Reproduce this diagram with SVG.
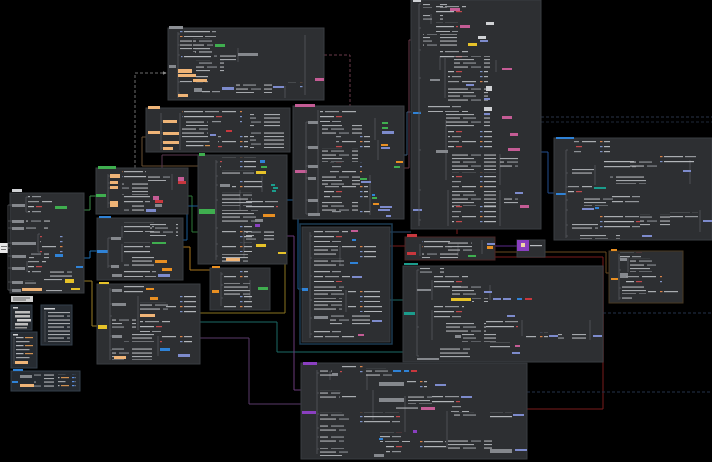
<svg xmlns="http://www.w3.org/2000/svg" width="712" height="462" viewBox="0 0 712 462">
<defs>
<style>
.pn{fill:#2d2f32;stroke:#3b3e42;stroke-width:1}
.dk{fill:#262b31;stroke:#34404c;stroke-width:1}
.b1{fill:url(#t1)}
.b2{fill:url(#t2)}
.b3{fill:url(#t3)}
.sp{fill:none;stroke:#55585d;stroke-width:0.8}
.ck{fill:#85888d}
.lt{fill:#cfd1d4}
.pe{fill:#efb477}
.gr{fill:#3fae4f}
.ye{fill:#e6c229}
.bl{fill:#2f82d6}
.pk{fill:#c45c95}
.rd{fill:#c8373d}
.pu{fill:#8a3fc0}
.te{fill:#1b9c8c}
.la{fill:#7d8bcc}
.or{fill:#e88f22}
.cn{fill:none;stroke-width:1}
.ds{stroke-dasharray:3 2}
</style>
<pattern id="t1" width="60" height="15" patternUnits="userSpaceOnUse">
<rect x="0" y="1" width="2.5" height="1.2" fill="#7d93c9"/>
<rect x="4" y="1" width="26" height="1.2" fill="#a9acb0"/>
<rect x="32" y="1" width="9" height="1.2" fill="#8d9196"/>
<rect x="0" y="6" width="2.5" height="1.2" fill="#d9834a"/>
<rect x="4" y="6" width="19" height="1.2" fill="#a9acb0"/>
<rect x="25" y="6" width="14" height="1.2" fill="#93969a"/>
<rect x="42" y="6" width="14" height="1.2" fill="#a9acb0"/>
<rect x="0" y="11" width="2.5" height="1.2" fill="#7d93c9"/>
<rect x="4" y="11" width="30" height="1.2" fill="#b3b6ba"/>
<rect x="36" y="11" width="6" height="1.2" fill="#c2484c"/>
</pattern>
<pattern id="t2" width="44" height="11" patternUnits="userSpaceOnUse">
<rect x="0" y="0.5" width="28" height="1.1" fill="#b6b8bb"/>
<rect x="31" y="0.5" width="10" height="1.1" fill="#8a8e93"/>
<rect x="0" y="4" width="34" height="1.1" fill="#a5a8ac"/>
<rect x="0" y="7.5" width="20" height="1.1" fill="#b6b8bb"/>
<rect x="23" y="7.5" width="13" height="1.1" fill="#989ba0"/>
</pattern>
<pattern id="t3" width="36" height="8" patternUnits="userSpaceOnUse">
<rect x="0" y="1" width="2.5" height="1.2" fill="#5c8fe0"/>
<rect x="3.5" y="1" width="20" height="1.2" fill="#b0b3b7"/>
<rect x="25" y="1" width="8" height="1.2" fill="#d09050"/>
<rect x="0" y="5" width="2.5" height="1.2" fill="#5c8fe0"/>
<rect x="3.5" y="5" width="26" height="1.2" fill="#a0a3a7"/>
</pattern>
<marker id="ar" viewBox="0 0 6 6" refX="5" refY="3" markerWidth="4" markerHeight="4" orient="auto"><path d="M0 0L6 3L0 6Z" fill="#888"/></marker>
</defs>
<rect width="712" height="462" fill="#000"/>

<g id="connectors">
<path class="cn" stroke="#8a8a8a" d="M8 248H10"/>
<path class="cn" stroke="#3e8e4a" d="M84 210H90V196H97"/>
<path class="cn" stroke="#1f6fb0" d="M84 258H90V251H97"/>
<path class="cn" stroke="#9a7e26" d="M84 281H92V326H97"/>
<path class="cn ds" stroke="#6c6c6c" d="M135 168V73H166" marker-end="url(#ar)"/>
<path class="cn" stroke="#6b5033" d="M146 137H142V166H198"/>
<path class="cn" stroke="#5a3850" d="M162 168V155H198"/>
<path class="cn" stroke="#2f7a3a" d="M188 196H192V232H198"/>
<path class="cn" stroke="#1d5c94" d="M183 240H187V206H198"/>
<path class="cn" stroke="#a8761f" d="M183 247H190V270H210"/>
<path class="cn" stroke="#8a7420" d="M200 313H285V262"/>
<path class="cn" stroke="#1d6a66" d="M200 322H277V352H403"/>
<path class="cn" stroke="#5a3a6a" d="M200 338H249V404H301"/>
<path class="cn" stroke="#6a3a7a" d="M287 236H294V390H301"/>
<path class="cn" stroke="#1f5f94" d="M287 200H298V289H302"/>
<path class="cn ds" stroke="#6b3a4a" d="M324 55H350V106"/>
<path class="cn" stroke="#3a5a7a" d="M404 155H407V112H411"/>
<path class="cn" stroke="#6b3a4a" d="M404 168H409V40H411"/>
<path class="cn" stroke="#234f90" d="M541 152H548V193H554"/>
<path class="cn ds" stroke="#2a3448" d="M541 117H712"/>
<path class="cn ds" stroke="#1f2838" stroke-width="1.5" d="M541 122H712"/>
<path class="cn" stroke="#5a2a8a" d="M495 246H517"/>
<path class="cn" stroke="#6b4a20" d="M495 252H606V273H609"/>
<path class="cn" stroke="#7a1c1c" d="M495 257H603V409H527"/>
<path class="cn ds" stroke="#25324a" stroke-width="1.5" d="M603 313H712"/>
<path class="cn ds" stroke="#25324a" stroke-width="1.5" d="M527 392H712"/>
<path class="cn" stroke="#7a1c1c" d="M390 246H405"/>
<path class="cn" stroke="#7a1c1c" d="M457 229V234"/>
<path class="cn" stroke="#1d6a66" d="M390 300H403"/>
<path class="cn" stroke="#2a4a6a" d="M390 232H411"/>
</g>

<g id="root"><rect x="0" y="243" width="8" height="10" fill="#e8e8e8"/><rect x="1" y="246" width="6" height="1" fill="#777"/><rect x="1" y="249" width="5" height="1" fill="#777"/></g>

<g id="panelA">
<rect class="pn" x="10" y="193" width="74" height="100"/>
<rect x="12" y="189" width="10" height="3" class="lt"/>
<path class="sp" d="M8 205V290M8 205H12M8 221H12M8 228H12M8 243H12M8 256H12M8 268H12M8 282H12M8 290H12M26 197V212M26 197H28M26 212H28M38 234V252M38 234H40M38 252H40M27 261V272"/>
<rect class="ck" x="12" y="204" width="13" height="3"/>
<rect class="ck" x="12" y="220" width="12" height="3"/>
<rect class="ck" x="12" y="227" width="12" height="3"/>
<rect class="ck" x="12" y="242" width="24" height="3"/>
<rect class="ck" x="12" y="255" width="14" height="3"/>
<rect class="ck" x="12" y="267" width="13" height="3"/>
<rect class="ck" x="12" y="281" width="11" height="3"/>
<rect class="ck" x="12" y="289" width="9" height="3"/>
<rect class="b1" x="28" y="195" width="24" height="18"/>
<rect class="b2" x="26" y="219" width="24" height="5"/>
<rect class="b2" x="26" y="226" width="22" height="4"/>
<rect class="b1" x="40" y="233" width="24" height="20"/>
<rect class="b2" x="29" y="253" width="20" height="6"/>
<rect class="b1" x="28" y="260" width="18" height="13"/>
<rect class="b2" x="50" y="270" width="22" height="7"/>
<rect class="b2" x="25" y="280" width="16" height="5"/>
<rect class="b2" x="44" y="277" width="18" height="4"/>
<rect class="pe" x="22" y="288" width="20" height="3"/>
<rect class="b2" x="46" y="288" width="16" height="4"/>
<rect class="gr" x="55" y="206" width="12" height="3"/>
<rect class="bl" x="55" y="254" width="8" height="3"/>
<rect class="bl" x="76" y="266" width="7" height="2"/>
<rect class="ye" x="65" y="279" width="9" height="4"/>
<rect class="ye" x="71" y="288" width="9" height="2"/>
</g>

<g id="boxes">
<rect x="11" y="296" width="22" height="6" fill="#cfcfcf"/>
<rect x="13" y="297.5" width="17" height="1" fill="#666"/><rect x="13" y="299.5" width="13" height="1" fill="#666"/>
<rect class="dk" x="11" y="305" width="21" height="25"/>
<rect x="13" y="307" width="5" height="1.5" class="lt"/>
<rect x="15" y="311" width="15" height="2.5" fill="#bdbdbd"/>
<rect x="15" y="315" width="15" height="2.5" fill="#bdbdbd"/>
<rect x="17" y="319" width="14" height="2.5" fill="#d0d0d0"/>
<rect x="15" y="323" width="13" height="2.5" fill="#bdbdbd"/>
<rect x="15" y="327" width="12" height="1.5" fill="#999"/>
<rect class="dk" x="41" y="305" width="31" height="40"/>
<rect x="44" y="308" width="11" height="1.5" class="lt"/>
<path class="sp" d="M45 311V342"/>
<rect class="b2" x="48" y="312" width="22" height="30"/>
<rect class="dk" x="11" y="332" width="26" height="36"/>
<rect x="13" y="334" width="5" height="1.5" class="lt"/>
<path class="sp" d="M14 337V364"/>
<rect class="b3" x="16" y="337" width="18" height="22"/>
<rect class="pe" x="15" y="361" width="13" height="3"/>
<rect class="dk" x="11" y="371" width="69" height="20"/>
<rect x="13" y="369" width="10" height="2" class="bl"/>
<rect x="12" y="381" width="6" height="2" class="bl"/>
<rect class="ck" x="20" y="375" width="12" height="3"/>
<rect class="pe" x="20" y="384" width="14" height="3"/>
<rect class="b2" x="34" y="373" width="20" height="16"/>
<rect class="b3" x="58" y="374" width="18" height="14"/>
</g>

<g id="panelB">
<rect class="pn" x="168" y="28" width="156" height="72"/>
<rect x="169" y="26" width="14" height="3" fill="#8c8f94"/>
<rect class="ck" x="169" y="65" width="7" height="3"/>
<path class="sp" d="M178 32V98M178 34H180M178 45H180M178 55H180M178 82H180M178 93H180M238 48V62M305 35V95M285 86V98"/>
<rect class="b1" x="180" y="30" width="36" height="7"/>
<rect class="b2" x="180" y="40" width="12" height="10"/>
<rect class="b2" x="193" y="38" width="20" height="14"/>
<rect class="b1" x="181" y="53" width="30" height="7"/>
<rect class="b2" x="195" y="48" width="20" height="5"/>
<rect class="b2" x="196" y="60" width="28" height="12"/>
<rect class="b1" x="196" y="74" width="12" height="10"/>
<rect class="b2" x="214" y="55" width="22" height="6"/>
<rect class="pe" x="178" y="69" width="14" height="4"/>
<rect class="pe" x="178" y="74" width="18" height="3"/>
<rect class="b2" x="180" y="79" width="12" height="4"/>
<rect class="pe" x="193" y="79" width="14" height="3"/>
<rect class="gr" x="215" y="44" width="10" height="3"/>
<rect class="ck" x="238" y="53" width="20" height="3"/>
<rect class="ck" x="194" y="88" width="8" height="4"/>
<rect class="b1" x="202" y="88" width="18" height="8"/>
<rect class="la" x="222" y="87" width="12" height="3"/>
<rect class="b2" x="236" y="83" width="36" height="10"/>
<rect class="la" x="273" y="86" width="11" height="2"/>
<rect class="b1" x="288" y="82" width="16" height="7"/>
<rect class="pk" x="315" y="78" width="9" height="3"/>
<rect class="pe" x="178" y="94" width="10" height="3"/>
</g>

<g id="panelC">
<rect class="pn" x="146" y="108" width="144" height="44"/>
<rect x="148" y="106" width="12" height="3" class="pe"/>
<rect class="pe" x="148" y="131" width="12" height="3"/>
<path class="sp" d="M161 113V150M161 121H163M161 133H163M161 142H163M161 148H163M180 113V150"/>
<rect class="pe" x="163" y="120" width="14" height="3"/>
<rect class="pe" x="163" y="132" width="16" height="3"/>
<rect class="pe" x="163" y="141" width="16" height="3"/>
<rect class="pe" x="163" y="147" width="10" height="3"/>
<rect class="b1" x="182" y="111" width="30" height="8"/>
<rect class="b2" x="186" y="120" width="22" height="6"/>
<rect class="b1" x="212" y="110" width="30" height="14"/>
<rect class="b2" x="182" y="128" width="26" height="10"/>
<rect class="la" x="210" y="134" width="6" height="2"/>
<rect class="rd" x="226" y="130" width="6" height="2"/>
<rect class="b1" x="218" y="136" width="30" height="12"/>
<rect class="b2" x="250" y="112" width="30" height="16"/>
<rect class="b2" x="250" y="132" width="34" height="16"/>
<rect class="b3" x="186" y="140" width="24" height="8"/>
</g>

<g id="panelD">
<rect class="pn" x="96" y="168" width="92" height="46"/>
<rect x="98" y="166" width="18" height="3" class="gr"/>
<rect class="gr" x="96" y="194" width="10" height="3"/>
<path class="sp" d="M108 174V208M108 176H110M108 183H110M108 188H110M108 203H110M172 174V190"/>
<rect class="pe" x="110" y="174" width="10" height="4"/>
<rect class="pe" x="110" y="181" width="8" height="3"/>
<rect class="pe" x="110" y="186" width="8" height="3"/>
<rect class="pe" x="110" y="201" width="8" height="6"/>
<rect class="b1" x="122" y="170" width="24" height="10"/>
<rect class="b2" x="148" y="176" width="22" height="5"/>
<rect class="b2" x="122" y="183" width="26" height="12"/>
<rect class="b1" x="124" y="196" width="26" height="8"/>
<rect class="b2" x="124" y="205" width="20" height="6"/>
<rect class="pk" x="178" y="177" width="6" height="4"/>
<rect class="rd" x="178" y="181" width="8" height="3"/>
<rect class="pk" x="153" y="196" width="6" height="4"/>
<rect class="rd" x="155" y="200" width="8" height="3"/>
<rect class="ck" x="155" y="204" width="7" height="3"/>
<rect class="la" x="146" y="209" width="10" height="3"/>
</g>

<g id="panelE">
<rect class="pn" x="97" y="218" width="86" height="62"/>
<rect x="99" y="216" width="12" height="2" class="bl"/>
<rect class="bl" x="97" y="250" width="11" height="3"/>
<path class="sp" d="M108 238V268M108 238H111M108 266H111M122 226V238M122 244V262"/>
<rect class="ck" x="111" y="237" width="10" height="3"/>
<rect class="ck" x="111" y="265" width="8" height="3"/>
<rect class="b1" x="124" y="222" width="30" height="10"/>
<rect class="b2" x="150" y="222" width="28" height="14"/>
<rect class="b1" x="124" y="242" width="26" height="12"/>
<rect class="gr" x="152" y="242" width="14" height="2"/>
<rect class="b2" x="124" y="256" width="30" height="12"/>
<rect class="or" x="155" y="260" width="12" height="3"/>
<rect class="or" x="162" y="268" width="10" height="3"/>
<rect class="b1" x="124" y="269" width="32" height="8"/>
<rect class="la" x="158" y="274" width="12" height="3"/>
<rect class="ck" x="112" y="274" width="10" height="3"/>
</g>

<g id="panelF">
<rect class="pn" x="198" y="155" width="89" height="109"/>
<rect x="199" y="153" width="6" height="3" class="gr"/>
<rect class="gr" x="199" y="209" width="16" height="5"/>
<path class="sp" d="M216 160V260M216 162H218M216 176H218M216 185H218M216 200H218M216 228H218M216 244H218M216 256H218M240 190V210M244 230V258M262 176V192"/>
<rect class="b1" x="220" y="157" width="36" height="12"/>
<rect class="b2" x="222" y="170" width="32" height="6"/>
<rect class="ck" x="220" y="184" width="10" height="3"/>
<rect class="b1" x="232" y="180" width="30" height="10"/>
<rect class="b2" x="222" y="192" width="30" height="14"/>
<rect class="b1" x="246" y="198" width="32" height="10"/>
<rect class="b2" x="222" y="210" width="36" height="12"/>
<rect class="b1" x="222" y="224" width="30" height="14"/>
<rect class="b2" x="246" y="230" width="28" height="12"/>
<rect class="b1" x="222" y="242" width="30" height="10"/>
<rect class="b2" x="222" y="254" width="26" height="8"/>
<rect class="bl" x="260" y="160" width="5" height="3"/>
<rect class="gr" x="261" y="166" width="6" height="2"/>
<rect class="ye" x="256" y="171" width="10" height="3"/>
<rect class="te" x="271" y="184" width="4" height="2"/>
<rect class="te" x="273" y="187" width="5" height="2"/>
<rect class="te" x="272" y="190" width="4" height="2"/>
<rect class="or" x="263" y="214" width="12" height="3"/>
<rect class="ck" x="255" y="219" width="8" height="3"/>
<rect class="pu" x="255" y="224" width="5" height="3"/>
<rect class="ye" x="256" y="244" width="10" height="3"/>
<rect class="ye" x="278" y="252" width="8" height="2"/>
<rect class="pe" x="226" y="258" width="14" height="3"/>
</g>

<g id="panelG">
<rect class="pn" x="210" y="268" width="60" height="42"/>
<rect x="212" y="266" width="8" height="2" class="or"/>
<rect class="or" x="212" y="290" width="7" height="3"/>
<path class="sp" d="M221 272V306M221 274H223M221 285H223M221 298H223M250 280V300"/>
<rect class="b1" x="224" y="271" width="24" height="10"/>
<rect class="b2" x="224" y="283" width="26" height="12"/>
<rect class="b1" x="224" y="296" width="28" height="12"/>
<rect class="gr" x="258" y="287" width="10" height="3"/>
</g>

<g id="panelH">
<rect class="pn" x="97" y="284" width="103" height="80"/>
<rect x="99" y="282" width="10" height="2" class="ye"/>
<rect class="ye" x="98" y="325" width="9" height="4"/>
<path class="sp" d="M110 288V360M110 290H112M110 304H112M110 316H112M110 336H112M110 350H112M138 296V330M158 336V356"/>
<rect class="ck" x="112" y="289" width="10" height="3"/>
<rect class="b1" x="124" y="286" width="20" height="8"/>
<rect class="or" x="146" y="288" width="8" height="2"/>
<rect class="or" x="150" y="297" width="8" height="3"/>
<rect class="ck" x="112" y="303" width="14" height="3"/>
<rect class="b2" x="140" y="302" width="28" height="10"/>
<rect class="b1" x="166" y="296" width="30" height="20"/>
<rect class="pe" x="140" y="314" width="15" height="3"/>
<rect class="b2" x="112" y="318" width="24" height="10"/>
<rect class="b1" x="140" y="320" width="30" height="12"/>
<rect class="ck" x="112" y="335" width="10" height="3"/>
<rect class="b2" x="124" y="332" width="30" height="10"/>
<rect class="b1" x="160" y="334" width="32" height="12"/>
<rect class="bl" x="160" y="348" width="10" height="3"/>
<rect class="b2" x="112" y="348" width="40" height="12"/>
<rect class="pe" x="114" y="356" width="12" height="3"/>
<rect class="la" x="178" y="354" width="12" height="3"/>
</g>

<g id="panelI">
<rect class="pn" x="293" y="106" width="111" height="113"/>
<rect x="295" y="104" width="20" height="3" class="pk"/>
<rect class="pk" x="295" y="170" width="12" height="3"/>
<path class="sp" d="M306 122V214M306 122H308M306 147H308M306 166H308M306 178H308M306 200H308M306 214H308M318 110V214M375 118V140M378 140V160M370 175V215"/>
<rect class="ck" x="308" y="121" width="10" height="3"/>
<rect class="ck" x="308" y="146" width="10" height="3"/>
<rect class="ck" x="308" y="165" width="10" height="3"/>
<rect class="ck" x="308" y="177" width="8" height="3"/>
<rect class="ck" x="308" y="199" width="10" height="3"/>
<rect class="ck" x="308" y="213" width="12" height="3"/>
<rect class="b1" x="320" y="108" width="40" height="14"/>
<rect class="b2" x="322" y="124" width="40" height="12"/>
<rect class="b1" x="336" y="136" width="34" height="12"/>
<rect class="b2" x="322" y="148" width="36" height="14"/>
<rect class="b1" x="330" y="162" width="32" height="12"/>
<rect class="b2" x="322" y="176" width="38" height="10"/>
<rect class="b1" x="324" y="186" width="44" height="14"/>
<rect class="b2" x="322" y="202" width="36" height="10"/>
<rect class="b1" x="330" y="208" width="40" height="8"/>
<rect class="gr" x="382" y="122" width="6" height="2"/>
<rect class="gr" x="382" y="127" width="6" height="2"/>
<rect class="la" x="382" y="131" width="12" height="3"/>
<rect class="or" x="381" y="144" width="7" height="2"/>
<rect class="la" x="381" y="147" width="9" height="2"/>
<rect class="or" x="396" y="161" width="7" height="2"/>
<rect class="gr" x="394" y="166" width="6" height="2"/>
<rect class="gr" x="360" y="178" width="7" height="2"/>
<rect class="la" x="361" y="181" width="10" height="2"/>
<rect class="bl" x="372" y="194" width="3" height="2"/>
<rect class="gr" x="372" y="197" width="5" height="2"/>
<rect class="or" x="373" y="203" width="6" height="2"/>
<rect class="la" x="380" y="206" width="12" height="2"/>
<rect class="la" x="378" y="209" width="12" height="2"/>
<rect class="la" x="386" y="215" width="5" height="2"/>
</g>

<g id="panelJ">
<rect x="300" y="224" width="92" height="120" fill="none" stroke="#1d3b52" stroke-width="1.5"/>
<rect class="pn" x="302" y="227" width="88" height="115"/>
<rect class="bl" x="302" y="288" width="6" height="3"/>
<path class="sp" d="M310 232V338M310 236H312M310 258H312M310 276H312M310 300H312M310 318H312M310 334H312M340 246V266M346 290V312"/>
<rect class="b1" x="314" y="230" width="34" height="12"/>
<rect class="pk" x="351" y="230" width="7" height="2"/>
<rect class="bl" x="352" y="239" width="4" height="2"/>
<rect class="b2" x="314" y="244" width="24" height="12"/>
<rect class="b1" x="342" y="244" width="34" height="14"/>
<rect class="b2" x="314" y="258" width="30" height="10"/>
<rect class="bl" x="350" y="262" width="8" height="2"/>
<rect class="b1" x="314" y="270" width="36" height="12"/>
<rect class="la" x="352" y="276" width="10" height="2"/>
<rect class="b2" x="314" y="284" width="30" height="12"/>
<rect class="b1" x="348" y="288" width="32" height="14"/>
<rect class="b2" x="314" y="298" width="28" height="14"/>
<rect class="b1" x="348" y="304" width="34" height="8"/>
<rect class="ck" x="314" y="316" width="14" height="3"/>
<rect class="b2" x="330" y="314" width="40" height="12"/>
<rect class="la" x="372" y="320" width="10" height="2"/>
<rect class="b1" x="314" y="328" width="40" height="12"/>
<rect class="pk" x="358" y="334" width="6" height="2"/>
</g>

<g id="panelK">
<rect class="pn" x="411" y="0" width="130" height="229"/>
<rect x="413" y="0" width="8" height="2" class="lt"/>
<rect class="bl" x="413" y="112" width="8" height="2"/>
<rect class="la" x="413" y="209" width="9" height="2"/>
<path class="sp" d="M419 4V226M419 4H421M419 28H421M419 50H421M419 78H421M419 112H421M419 150H421M419 190H421M419 220H421M431 14V24M440 56V70M445 58V98M446 120V180M448 190V226M496 60V72M500 154V185M500 190V226"/>
<rect class="b2" x="423" y="2" width="24" height="6"/>
<rect class="b1" x="436" y="6" width="30" height="8"/>
<rect class="pk" x="450" y="8" width="10" height="3"/>
<rect class="b2" x="423" y="14" width="20" height="8"/>
<rect class="pk" x="460" y="25" width="10" height="3"/>
<rect class="b1" x="436" y="22" width="22" height="10"/>
<rect class="b2" x="423" y="34" width="34" height="14"/>
<rect class="b1" x="440" y="48" width="28" height="12"/>
<rect class="ye" x="468" y="43" width="9" height="3"/>
<rect class="lt" x="478" y="36" width="8" height="3"/>
<rect class="la" x="480" y="40" width="8" height="2"/>
<rect class="b2" x="454" y="56" width="36" height="12"/>
<rect class="lt" x="486" y="22" width="8" height="3"/>
<rect class="ck" x="430" y="79" width="10" height="2"/>
<rect class="b1" x="448" y="70" width="40" height="16"/>
<rect class="pk" x="502" y="68" width="10" height="2"/>
<rect class="b2" x="448" y="88" width="40" height="14"/>
<rect class="la" x="466" y="84" width="8" height="2"/>
<rect class="b1" x="428" y="104" width="40" height="8"/>
<rect class="b2" x="446" y="114" width="44" height="14"/>
<rect class="lt" x="484" y="107" width="8" height="4"/>
<rect class="la" x="484" y="113" width="6" height="2"/>
<rect class="b1" x="448" y="130" width="44" height="20"/>
<rect class="pk" x="502" y="116" width="10" height="3"/>
<rect class="ck" x="436" y="150" width="12" height="3"/>
<rect class="b2" x="452" y="152" width="44" height="18"/>
<rect class="pk" x="510" y="133" width="8" height="3"/>
<rect class="b1" x="452" y="172" width="44" height="16"/>
<rect class="lt" x="486" y="86" width="6" height="5"/>
<rect class="la" x="484" y="98" width="6" height="2"/>
<rect class="b2" x="452" y="190" width="44" height="16"/>
<rect class="b1" x="452" y="206" width="44" height="18"/>
<rect class="pk" x="508" y="148" width="12" height="3"/>
<rect class="b2" x="500" y="158" width="18" height="10"/>
<rect class="la" x="515" y="192" width="8" height="2"/>
<rect class="pk" x="520" y="205" width="9" height="3"/>
<rect class="b2" x="504" y="196" width="14" height="8"/>
</g>

<g id="panelL">
<rect class="pn" x="554" y="138" width="158" height="102"/>
<rect x="556" y="137" width="18" height="2" class="bl"/>
<rect class="bl" x="556" y="193" width="10" height="2"/>
<path class="sp" d="M566 150V238M566 150H568M566 173H568M566 187H568M566 200H568M566 210H568M566 225H568M566 236H568M595 165V185M690 160V184M700 210V232"/>
<rect class="b1" x="574" y="141" width="36" height="12"/>
<rect class="b2" x="568" y="168" width="26" height="8"/>
<rect class="b1" x="604" y="158" width="32" height="12"/>
<rect class="b2" x="630" y="160" width="30" height="8"/>
<rect class="b1" x="660" y="156" width="36" height="10"/>
<rect class="la" x="683" y="170" width="8" height="2"/>
<rect class="b2" x="610" y="174" width="36" height="10"/>
<rect class="b1" x="568" y="186" width="24" height="8"/>
<rect class="te" x="594" y="187" width="12" height="2"/>
<rect class="b2" x="584" y="196" width="30" height="10"/>
<rect class="b1" x="612" y="194" width="28" height="10"/>
<rect class="bl" x="595" y="207" width="4" height="2"/>
<rect class="la" x="582" y="208" width="12" height="2"/>
<rect class="b2" x="568" y="222" width="30" height="8"/>
<rect class="b1" x="600" y="216" width="40" height="12"/>
<rect class="b2" x="640" y="214" width="30" height="12"/>
<rect class="b1" x="670" y="212" width="28" height="8"/>
<rect class="la" x="703" y="220" width="9" height="2"/>
<rect class="b2" x="580" y="234" width="40" height="5"/>
<rect class="la" x="642" y="235" width="10" height="2"/>
</g>

<g id="panelM">
<rect class="pn" x="405" y="237" width="90" height="23" style="stroke:#4a2626"/>
<rect x="407" y="234" width="10" height="3" class="rd"/>
<rect class="rd" x="407" y="252" width="9" height="3"/>
<path class="sp" d="M420 244V256M458 244V256M482 240V254"/>
<rect class="b1" x="422" y="240" width="30" height="10"/>
<rect class="b2" x="448" y="242" width="24" height="10"/>
<rect class="b2" x="422" y="252" width="36" height="6"/>
<rect class="la" x="487" y="243" width="8" height="2"/>
<rect class="or" x="487" y="246" width="6" height="3"/>
<rect class="gr" x="468" y="255" width="8" height="2"/>
</g>

<g id="nodePurple">
<rect class="pn" x="517" y="240" width="28" height="17"/>
<rect class="pu" x="517" y="240" width="12" height="11"/>
<rect x="521" y="243" width="4" height="4" fill="#f1d6a6"/>
<rect x="530" y="245" width="12" height="1.2" fill="#b9bcc0"/>
</g>

<g id="panelN">
<rect class="pn" x="403" y="266" width="200" height="96"/>
<rect x="404" y="263" width="14" height="2" class="te"/>
<rect class="te" x="404" y="312" width="11" height="3"/>
<path class="sp" d="M417 270V356M417 270H419M417 290H419M417 327H419M417 356H419M432 280V300M432 310V340M490 285V300M522 320V336M590 320V340"/>
<rect class="b2" x="420" y="268" width="24" height="6"/>
<rect class="ck" x="417" y="289" width="14" height="2"/>
<rect class="b1" x="434" y="276" width="34" height="12"/>
<rect class="b2" x="452" y="286" width="30" height="10"/>
<rect class="la" x="484" y="291" width="8" height="2"/>
<rect class="ye" x="451" y="298" width="20" height="3"/>
<rect class="b2" x="472" y="298" width="16" height="4"/>
<rect class="la" x="493" y="298" width="8" height="2"/>
<rect class="la" x="503" y="298" width="8" height="2"/>
<rect class="bl" x="517" y="298" width="5" height="2"/>
<rect class="rd" x="525" y="298" width="7" height="2"/>
<rect class="b1" x="434" y="306" width="30" height="14"/>
<rect class="b2" x="446" y="322" width="40" height="10"/>
<rect class="b1" x="486" y="320" width="32" height="10"/>
<rect class="la" x="507" y="315" width="8" height="2"/>
<rect class="ck" x="455" y="335" width="6" height="3"/>
<rect class="b2" x="462" y="334" width="34" height="8"/>
<rect class="b1" x="526" y="332" width="22" height="8"/>
<rect class="b2" x="558" y="332" width="28" height="8"/>
<rect class="la" x="549" y="335" width="9" height="2"/>
<rect class="la" x="593" y="335" width="9" height="2"/>
<rect class="b1" x="490" y="342" width="20" height="8"/>
<rect class="pk" x="515" y="345" width="5" height="2"/>
<rect class="la" x="512" y="352" width="8" height="2"/>
<rect class="ck" x="417" y="358" width="22" height="2"/>
<rect class="b2" x="440" y="348" width="30" height="10"/>
</g>

<g id="panelO">
<rect class="pn" x="609" y="251" width="74" height="52" style="stroke:#4a3a22"/>
<rect x="611" y="249" width="6" height="2" class="or"/>
<rect class="or" x="611" y="278" width="7" height="2"/>
<path class="sp" d="M619 254V300M619 258H621M619 270H621M619 288H621M619 298H621M628 256V272"/>
<rect class="b1" x="620" y="252" width="32" height="8"/>
<rect class="ck" x="620" y="258" width="7" height="3"/>
<rect class="b2" x="630" y="258" width="26" height="14"/>
<rect class="ck" x="620" y="273" width="8" height="5"/>
<rect class="b1" x="626" y="276" width="36" height="10"/>
<rect class="b2" x="622" y="286" width="24" height="8"/>
<rect class="b1" x="648" y="288" width="30" height="6"/>
<rect class="b2" x="622" y="296" width="10" height="5"/>
</g>

<g id="panelP">
<rect class="pn" x="301" y="363" width="226" height="96"/>
<rect x="303" y="362" width="14" height="3" class="pu"/>
<rect class="pu" x="302" y="411" width="14" height="3"/>
<path class="sp" d="M317 370V454M317 373H319M317 393H319M317 414H319M317 428H319M317 437H319M317 449H319M330 371V380M367 374V390M373 390V420M405 396V432M447 411V448"/>
<rect class="b2" x="320" y="370" width="12" height="6"/>
<rect class="ck" x="332" y="373" width="6" height="3"/>
<rect class="b1" x="340" y="366" width="24" height="10"/>
<rect class="b2" x="366" y="368" width="26" height="8"/>
<rect class="bl" x="393" y="370" width="8" height="2"/>
<rect class="bl" x="404" y="370" width="5" height="2"/>
<rect class="rd" x="411" y="370" width="6" height="2"/>
<rect class="ck" x="379" y="382" width="25" height="4"/>
<rect class="b1" x="407" y="380" width="20" height="10"/>
<rect class="la" x="435" y="384" width="11" height="2"/>
<rect class="b2" x="320" y="390" width="20" height="8"/>
<rect class="b1" x="340" y="392" width="20" height="8"/>
<rect class="ck" x="379" y="398" width="25" height="4"/>
<rect class="b2" x="408" y="396" width="24" height="8"/>
<rect class="b1" x="432" y="394" width="28" height="10"/>
<rect class="la" x="461" y="396" width="11" height="2"/>
<rect class="pk" x="421" y="407" width="14" height="3"/>
<rect class="b2" x="396" y="406" width="22" height="4"/>
<rect class="b1" x="451" y="404" width="18" height="8"/>
<rect class="b2" x="320" y="412" width="30" height="8"/>
<rect class="b1" x="360" y="412" width="40" height="12"/>
<rect class="b2" x="454" y="412" width="30" height="6"/>
<rect class="b1" x="490" y="412" width="22" height="8"/>
<rect class="la" x="513" y="414" width="11" height="2"/>
<rect class="b2" x="320" y="424" width="26" height="8"/>
<rect class="pu" x="413" y="430" width="4" height="3"/>
<rect class="b1" x="380" y="432" width="30" height="10"/>
<rect class="bl" x="379" y="438" width="4" height="2"/>
<rect class="b2" x="320" y="436" width="24" height="6"/>
<rect class="b1" x="420" y="438" width="26" height="12"/>
<rect class="b2" x="448" y="438" width="44" height="12"/>
<rect class="ck" x="490" y="449" width="22" height="4"/>
<rect class="la" x="515" y="449" width="12" height="2"/>
<rect class="b2" x="320" y="448" width="28" height="8"/>
<rect class="ck" x="374" y="454" width="10" height="3"/>
<rect class="b1" x="386" y="446" width="30" height="10"/>
</g>
</svg>
